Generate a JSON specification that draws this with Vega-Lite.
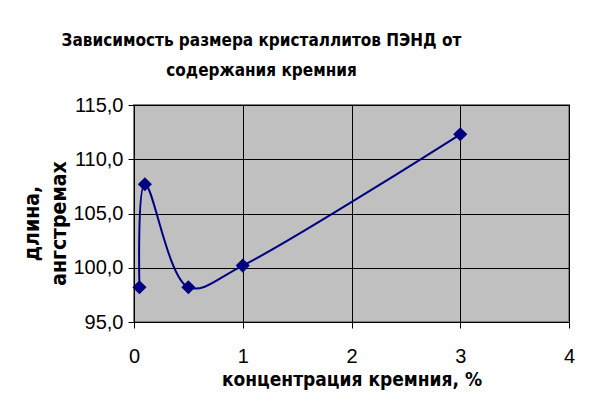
{
  "$schema": "https://vega.github.io/schema/vega-lite/v6.json",
  "width": 435,
  "height": 217,
  "autosize": "none",
  "padding": {"left": 134, "top": 105, "right": 28, "bottom": 97},
  "background": "white",
  "title": {
    "text": ["Зависимость размера кристаллитов ПЭНД от", "содержания кремния"],
    "font": "DejaVu Sans Condensed, DejaVu Sans, sans-serif",
    "fontSize": 17,
    "fontWeight": "bold",
    "lineHeight": 30,
    "color": "black",
    "anchor": "middle",
    "dx": -90,
    "offset": 15
  },
  "data": {
    "values": [
      {"x": 0.05, "y": 98.2},
      {"x": 0.1, "y": 107.7},
      {"x": 0.5, "y": 98.2},
      {"x": 1.0, "y": 100.2},
      {"x": 3.0, "y": 112.3}
    ]
  },
  "config": {
    "view": {"fill": "#C0C0C0", "stroke": "#808080", "strokeWidth": 2},
    "axis": {
      "grid": true,
      "gridColor": "black",
      "gridWidth": 1,
      "gridOpacity": 1,
      "domainColor": "black",
      "domainWidth": 1,
      "tickColor": "black",
      "tickSize": 6,
      "labelFont": "Liberation Sans, Arial, sans-serif",
      "labelFontSize": 20,
      "labelColor": "black",
      "titleFont": "DejaVu Sans Condensed, DejaVu Sans, sans-serif",
      "titleFontWeight": "bold",
      "titleColor": "black"
    }
  },
  "layer": [
    {
      "mark": {"type": "line", "interpolate": "catmull-rom", "color": "#000080", "strokeWidth": 2},
      "encoding": {
        "x": {"field": "x", "type": "quantitative"},
        "y": {"field": "y", "type": "quantitative"}
      }
    },
    {
      "mark": {"type": "point", "shape": "diamond", "filled": true, "color": "#000080", "size": 200, "opacity": 1},
      "encoding": {
        "x": {
          "field": "x",
          "type": "quantitative",
          "scale": {"domain": [0, 4], "nice": false, "zero": false},
          "axis": {"values": [0, 1, 2, 3, 4], "format": "d", "title": "концентрация кремния, %", "titleFontSize": 19, "labelPadding": 18, "titlePadding": 4, "labelFlush": false}
        },
        "y": {
          "field": "y",
          "type": "quantitative",
          "scale": {"domain": [95, 115], "nice": false, "zero": false},
          "axis": {
            "values": [95, 100, 105, 110, 115],
            "labelExpr": "replace(format(datum.value, '.1f'), '.', ',')",
            "title": ["длина,", "ангстремах"],
            "titleFontSize": 21,
            "labelPadding": 5,
            "titlePadding": 3,
            "titleLineHeight": 27,
            "titleY": 118
          }
        }
      }
    }
  ]
}
